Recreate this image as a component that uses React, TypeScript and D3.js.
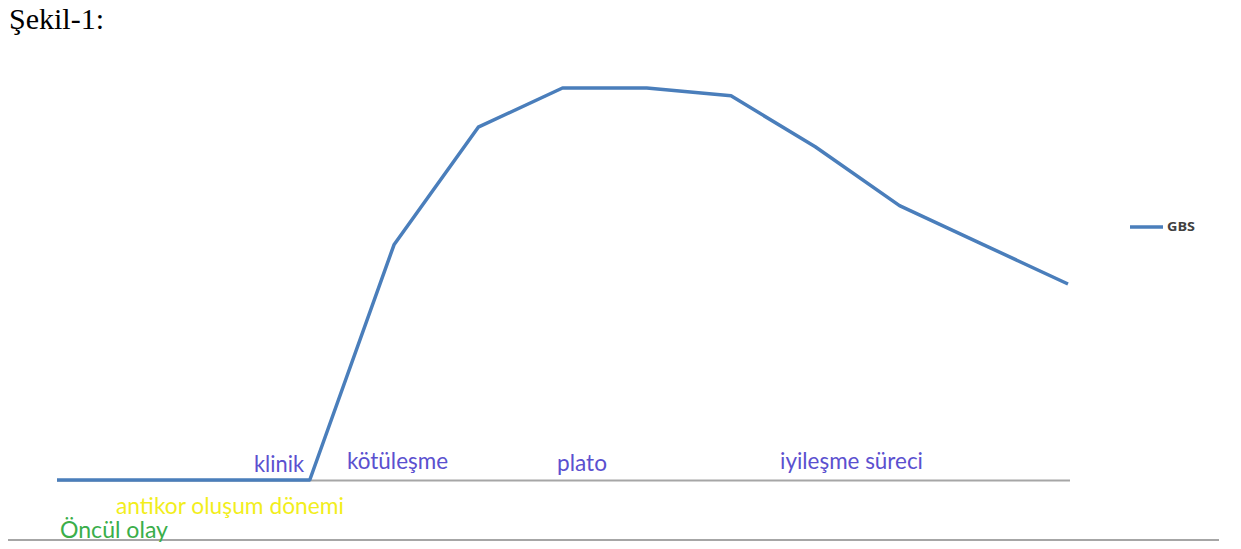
import React from "react";
import * as d3 from "d3";

const categories = ["0", "1", "2", "3", "4", "5", "6", "7", "8", "9", "10", "11", "12"];
const gbsValues = [0, 0, 0, 0, 60, 90, 100, 100, 98, 85, 70, 60, 50];
const seriesName = "GBS";
const title = "Şekil-1:";
const phaseLabels = [
  { text: "klinik", x: 254, y: 472, w: 50, color: "#5b50cf" },
  { text: "kötüleşme", x: 347, y: 469, w: 101, color: "#5b50cf" },
  { text: "plato", x: 557, y: 471, w: 50, color: "#5b50cf" },
  { text: "iyileşme süreci", x: 780, y: 469, w: 143, color: "#5b50cf" },
  { text: "antikor oluşum dönemi", x: 116, y: 514, w: 228, color: "#f2ee1c" },
  { text: "Öncül olay", x: 60, y: 538, w: 108, color: "#3aae4a" },
];

export default function App() {
  const W = 1241, H = 549;
  const x = d3.scalePoint<string>().domain(categories).range([57, 1068]);
  const y = d3.scaleLinear().domain([0, 100]).range([480, 88]);
  const line = d3
    .line<number>()
    .x((_, i) => x(categories[i]) as number)
    .y((d) => y(d));
  const lineColor = "#4a7ebb";
  return (
    <svg
      width={W}
      height={H}
      style={{ position: "absolute", left: 0, top: 0, background: "#fff" }}
    >
      <text x={9} y={29} fontFamily="Liberation Serif" fontSize={30} fill="#000">
        {title}
      </text>
      <line x1={57} x2={1070} y1={y(0) + 0.5} y2={y(0) + 0.5} stroke="#a6a6a6" strokeWidth={2} />
      <line x1={8} x2={1219} y1={540} y2={540} stroke="#a6a6a6" strokeWidth={2} />
      <path d={line(gbsValues) || ""} fill="none" stroke={lineColor} strokeWidth={3.5} strokeLinejoin="round" />
      {phaseLabels.map((p) => (
        <text
          key={p.text}
          x={p.x}
          y={p.y}
          fontFamily="Lato, 'Open Sans', sans-serif"
          fontSize={23}
          fill={p.color}
          textLength={p.w}
          lengthAdjust="spacingAndGlyphs"
        >
          {p.text}
        </text>
      ))}
      <line x1={1130} x2={1163} y1={227} y2={227} stroke={lineColor} strokeWidth={3.5} />
      <text
        x={1167}
        y={231}
        fontFamily="'Open Sans', sans-serif"
        fontSize={12}
        fontWeight="bold"
        fill="#404040"
        textLength={28}
        lengthAdjust="spacingAndGlyphs"
      >
        {seriesName}
      </text>
    </svg>
  );
}
